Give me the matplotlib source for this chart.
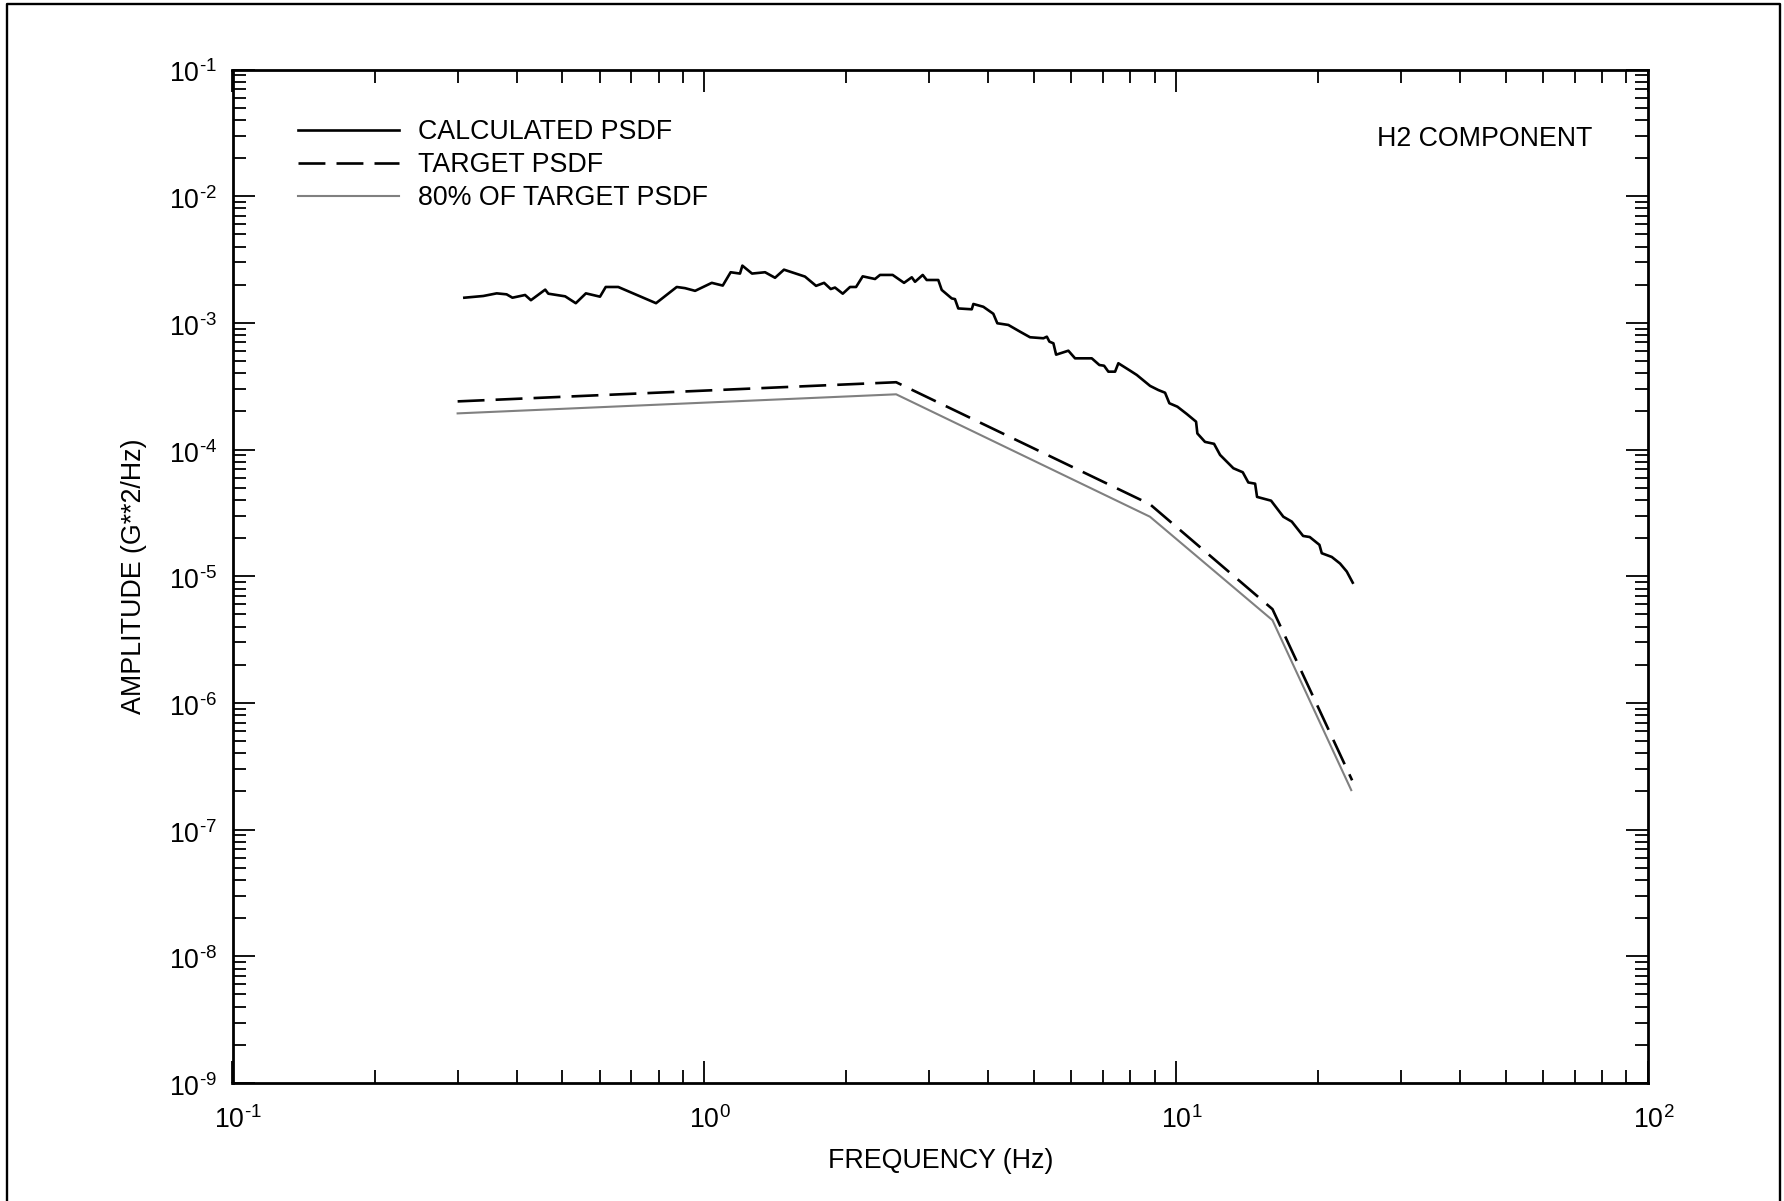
import numpy as np
import matplotlib
matplotlib.use("Agg")
import matplotlib.pyplot as plt
from matplotlib.ticker import LogLocator, NullFormatter, FixedLocator
from matplotlib.lines import Line2D
import matplotlib.transforms as mtransforms

plt.rcParams['font.family'] = ['Liberation Sans', 'DejaVu Sans']
plt.rcParams['mathtext.fontset'] = 'custom'
plt.rcParams['mathtext.rm'] = 'Liberation Sans'
plt.rcParams['mathtext.it'] = 'Liberation Sans:italic'
plt.rcParams['mathtext.bf'] = 'Liberation Sans:bold'
plt.rcParams['mathtext.default'] = 'regular'

# ---- data ----
calc_freq = [0.310, 0.340, 0.363, 0.381, 0.392, 0.417, 0.429, 0.460, 0.467, 0.507,
             0.534, 0.561, 0.601, 0.618, 0.657, 0.790, 0.874, 0.910, 0.956, 1.037,
             1.094, 1.137, 1.190, 1.204, 1.262, 1.345, 1.412, 1.475, 1.634, 1.725,
             1.794, 1.853, 1.892, 1.965, 2.036, 2.097, 2.166, 2.300, 2.357, 2.507,
             2.650, 2.752, 2.796, 2.903, 2.960, 3.132, 3.185, 3.344, 3.398, 3.453,
             3.688, 3.717, 3.902, 4.097, 4.178, 4.409, 4.668, 4.901, 5.232, 5.320,
             5.387, 5.493, 5.566, 5.909, 6.105, 6.624, 6.874, 7.034, 7.183, 7.422,
             7.542, 7.984, 8.252, 8.806, 9.167, 9.472, 9.673, 10.06, 10.53, 11.02,
             11.09, 11.51, 12.03, 12.39, 13.22, 13.84, 14.22, 14.70, 14.84, 15.89,
             16.87, 17.58, 18.58, 19.19, 20.12, 20.35, 21.37, 22.25, 22.99, 23.67]
calc_amp = [1.58e-3, 1.63e-3, 1.71e-3, 1.68e-3, 1.58e-3, 1.66e-3, 1.51e-3, 1.83e-3, 1.70e-3, 1.62e-3,
            1.43e-3, 1.71e-3, 1.61e-3, 1.92e-3, 1.92e-3, 1.43e-3, 1.92e-3, 1.88e-3, 1.79e-3, 2.07e-3,
            1.97e-3, 2.51e-3, 2.45e-3, 2.83e-3, 2.45e-3, 2.51e-3, 2.27e-3, 2.63e-3, 2.32e-3, 1.96e-3,
            2.07e-3, 1.85e-3, 1.90e-3, 1.70e-3, 1.92e-3, 1.92e-3, 2.33e-3, 2.22e-3, 2.39e-3, 2.39e-3,
            2.07e-3, 2.29e-3, 2.11e-3, 2.39e-3, 2.18e-3, 2.18e-3, 1.82e-3, 1.56e-3, 1.54e-3, 1.30e-3,
            1.28e-3, 1.41e-3, 1.34e-3, 1.18e-3, 9.93e-4, 9.63e-4, 8.52e-4, 7.70e-4, 7.56e-4, 7.78e-4,
            7.11e-4, 6.90e-4, 5.61e-4, 6.03e-4, 5.25e-4, 5.25e-4, 4.65e-4, 4.59e-4, 4.12e-4, 4.12e-4,
            4.80e-4, 4.20e-4, 3.88e-4, 3.18e-4, 2.95e-4, 2.81e-4, 2.32e-4, 2.18e-4, 1.91e-4, 1.66e-4,
            1.34e-4, 1.15e-4, 1.11e-4, 9.07e-5, 7.12e-5, 6.62e-5, 5.50e-5, 5.38e-5, 4.23e-5, 3.95e-5,
            2.95e-5, 2.70e-5, 2.08e-5, 2.04e-5, 1.77e-5, 1.52e-5, 1.42e-5, 1.26e-5, 1.09e-5, 8.90e-6]

target_freq = [0.30, 2.55, 8.8, 16.0, 23.6]
target_amp = [2.40e-4, 3.40e-4, 3.70e-5, 5.50e-6, 2.45e-7]

eighty_freq = [0.30, 2.55, 8.8, 16.0, 23.5]
eighty_amp = [1.93e-4, 2.73e-4, 2.95e-5, 4.50e-6, 2.05e-7]

x_ticks = [0.1, 1.0, 10.0, 100.0]
x_tick_labels = [r'$\mathregular{10^{‐1}}$', r'$\mathregular{10^{0}}$',
                 r'$\mathregular{10^{1}}$', r'$\mathregular{10^{2}}$']
y_ticks = [1e-9, 1e-8, 1e-7, 1e-6, 1e-5, 1e-4, 1e-3, 1e-2, 1e-1]
y_tick_labels = [r'$\mathregular{10^{‐9}}$', r'$\mathregular{10^{‐8}}$',
                 r'$\mathregular{10^{‐7}}$', r'$\mathregular{10^{‐6}}$',
                 r'$\mathregular{10^{‐5}}$', r'$\mathregular{10^{‐4}}$',
                 r'$\mathregular{10^{‐3}}$', r'$\mathregular{10^{‐2}}$',
                 r'$\mathregular{10^{‐1}}$']

labels = ['CALCULATED PSDF', 'TARGET PSDF', '80% OF TARGET PSDF']
annotation = 'H2 COMPONENT'
xlabel = 'FREQUENCY (Hz)'
ylabel = 'AMPLITUDE (G**2/Hz)'

# ---- figure ----
W, H = 1784, 1201
fig = plt.figure(figsize=(W / 100, H / 100), dpi=100)
ax = fig.add_axes([232.5 / W, (H - 1083) / H, (1648 - 232.5) / W, (1083 - 69.5) / H])

FS = 19.3
ax.plot(calc_freq, calc_amp, color='black', lw=1.9, label=labels[0])
ax.plot(target_freq, target_amp, color='black', lw=1.9, linestyle=(0, (10.2, 4.2)), label=labels[1])
ax.plot(eighty_freq, eighty_amp, color='#808080', lw=1.5, label=labels[2])

ax.set_xscale('log')
ax.set_yscale('log')
ax.set_xlim(0.1, 100)
ax.set_ylim(1e-9, 1e-1)

ax.xaxis.set_major_locator(FixedLocator(x_ticks))
ax.yaxis.set_major_locator(FixedLocator(y_ticks))
ax.set_xticklabels(x_tick_labels)
ax.set_yticklabels(y_tick_labels)
ax.xaxis.set_minor_locator(LogLocator(base=10, subs=np.arange(2, 10), numticks=100))
ax.yaxis.set_minor_locator(LogLocator(base=10, subs=np.arange(2, 10), numticks=200))
ax.xaxis.set_minor_formatter(NullFormatter())
ax.yaxis.set_minor_formatter(NullFormatter())

ax.tick_params(which='both', direction='in', top=True, right=True, width=1.3, color='black')
ax.tick_params(which='major', length=16, labelsize=FS)
ax.tick_params(which='minor', length=9.5)
ax.tick_params(axis='x', which='major', pad=17)
ax.tick_params(axis='y', which='major', pad=11)
for s in ax.spines.values():
    s.set_linewidth(2.0)

fig.canvas.draw()
dx = mtransforms.ScaledTranslation(4 / 72, 0, fig.dpi_scale_trans)
for lab in ax.get_xticklabels():
    lab.set_transform(lab.get_transform() + dx)
dy = mtransforms.ScaledTranslation(0, -1.5 / 72, fig.dpi_scale_trans)
for lab in ax.get_yticklabels():
    lab.set_transform(lab.get_transform() + dy)

ax.set_xlabel(xlabel, fontsize=FS, labelpad=10)
ax.set_ylabel(ylabel, fontsize=FS, labelpad=16)

leg = ax.legend(loc='upper left', bbox_to_anchor=(0.0463, 0.951), frameon=False,
                fontsize=FS, handlelength=3.75, handletextpad=0.72, labelspacing=0.26,
                borderpad=0, borderaxespad=0)

ax.text(0.961, 0.9315, annotation, transform=ax.transAxes, ha='right', va='center', fontsize=FS)

# outer frame of the page
fig.add_artist(Line2D([7 / W, 7 / W, 1780 / W, 1780 / W], [-0.01, 1 - 4 / H, 1 - 4 / H, -0.01],
                      transform=fig.transFigure, color='black', lw=1.7))

fig.savefig('out.png', dpi=100)
